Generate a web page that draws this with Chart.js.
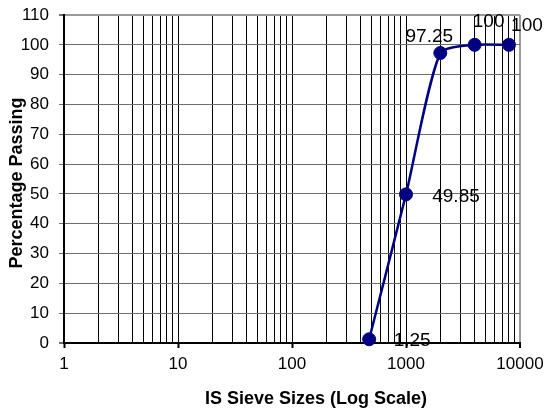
<!DOCTYPE html>
<html>
<head>
<meta charset="utf-8">
<script src="https://cdn.jsdelivr.net/npm/chart.js@4/dist/chart.umd.min.js"></script>
<style>
  html, body { margin: 0; padding: 0; background: #fff; }
</style>
</head>
<body>
<canvas id="chart" width="545" height="411"></canvas>
<script>
// Grain size distribution: sieve size (log scale) vs cumulative percentage passing
const sieveSizes = [475, 1000, 2000, 4000, 8000];
const percentPassing = [1.25, 49.85, 97.25, 100, 100];
const valueLabels = ['1.25', '49.85', '97.25', '100', '100'];
const xMajorTicks = [1, 10, 100, 1000, 10000];
const yTicks = [0, 10, 20, 30, 40, 50, 60, 70, 80, 90, 100, 110];
const xTitle = 'IS Sieve Sizes (Log Scale)';
const yTitle = 'Percentage Passing';

// where each value label sits relative to its marker (px)
const labelOffsets = [[43, 1], [50, 2], [-11, -16], [14, -23], [18, -19]];

const FONT = '"Liberation Sans", Arial, sans-serif';
const NAVY = '#000080';

// log-scale grid positions: 1..9 in every decade
const xGridValues = [];
for (let e = 0; e < 4; e++) {
  for (let m = 1; m <= 9; m++) xGridValues.push(m * Math.pow(10, e));
}
xGridValues.push(10000);

const valueLabelPlugin = {
  id: 'valueLabels',
  afterDatasetsDraw(chart) {
    const ctx = chart.ctx;
    const meta = chart.getDatasetMeta(0);
    ctx.save();
    ctx.font = '19px ' + FONT;
    ctx.fillStyle = '#000';
    ctx.textAlign = 'center';
    ctx.textBaseline = 'middle';
    meta.data.forEach((pt, i) => {
      const [dx, dy] = labelOffsets[i];
      ctx.fillText(valueLabels[i], pt.x + dx, pt.y + dy);
    });
    ctx.restore();
  }
};

const axisTitlePlugin = {
  id: 'axisTitles',
  afterDraw(chart) {
    const ctx = chart.ctx;
    const area = chart.chartArea;
    ctx.save();
    ctx.font = 'bold 18px ' + FONT;
    ctx.fillStyle = '#000';
    ctx.textAlign = 'center';
    ctx.textBaseline = 'middle';
    ctx.fillText(xTitle, (area.left + area.right) / 2 + 24, 399);
    ctx.translate(17, (area.top + area.bottom) / 2 + 4);
    ctx.rotate(-Math.PI / 2);
    ctx.fillText(yTitle, 0, 0);
    ctx.restore();
  }
};

new Chart(document.getElementById('chart'), {
  type: 'line',
  data: {
    datasets: [{
      data: sieveSizes.map((s, i) => ({ x: s, y: percentPassing[i] })),
      borderColor: NAVY,
      borderWidth: 2.5,
      tension: 0.22,
      pointRadius: 6.5,
      pointBackgroundColor: NAVY,
      pointBorderColor: NAVY,
      pointBorderWidth: 1,
      clip: false
    }]
  },
  options: {
    responsive: false,
    devicePixelRatio: 1,
    animation: false,
    layout: { padding: { top: 15, right: 25, left: 0, bottom: 0 } },
    plugins: { legend: { display: false }, tooltip: { enabled: false } },
    scales: {
      x: {
        type: 'logarithmic',
        min: 1,
        max: 10000,
        afterBuildTicks(scale) {
          scale.ticks = xGridValues.map(v => ({ value: v, major: xMajorTicks.includes(v) }));
        },
        afterFit(scale) {
          scale.height = 68;
          scale.paddingLeft = 0;
          scale.paddingRight = 0;
        },
        ticks: {
          autoSkip: false,
          maxRotation: 0,
          padding: 6,
          color: '#000',
          font: { family: FONT, size: 17 },
          callback: v => (xMajorTicks.includes(v) ? String(v) : '')
        },
        grid: {
          drawTicks: true,
          tickLength: 5,
          color: ctx => (ctx.tick && ctx.tick.value === 10000 ? '#9a9a9a' : '#000'),
          lineWidth: ctx => (ctx.tick && ctx.tick.value === 10000 ? 2 : 1),
          tickColor: ctx => (ctx.tick && xMajorTicks.includes(ctx.tick.value) ? '#000' : 'rgba(0,0,0,0)'),
          tickWidth: 2
        },
        border: { display: true, color: '#000', width: 2 }
      },
      y: {
        type: 'linear',
        min: 0,
        max: 110,
        afterBuildTicks(scale) {
          scale.ticks = yTicks.map(v => ({ value: v }));
        },
        afterFit(scale) {
          scale.width = 64;
          scale.paddingTop = 0;
          scale.paddingBottom = 0;
        },
        ticks: {
          padding: 10,
          color: '#000',
          font: { family: FONT, size: 17 }
        },
        grid: {
          drawTicks: true,
          tickLength: 5,
          color: ctx => {
            const v = ctx.tick ? ctx.tick.value : null;
            if (v === 0) return '#000';
            if (v === 110) return '#9a9a9a';
            return '#6e6e6e';
          },
          lineWidth: ctx => (ctx.tick && (ctx.tick.value === 110 || ctx.tick.value === 0) ? 2 : 1),
          tickColor: '#6e6e6e'
        },
        border: { display: true, color: '#000', width: 2 }
      }
    }
  },
  plugins: [valueLabelPlugin, axisTitlePlugin]
});
</script>
</body>
</html>
